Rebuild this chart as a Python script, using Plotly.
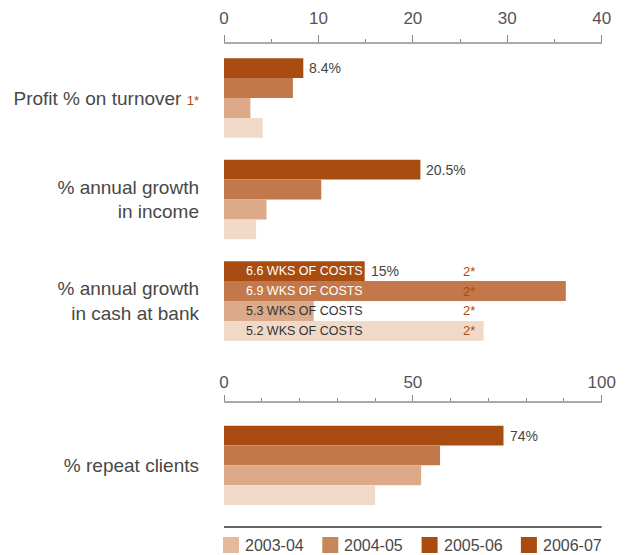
import plotly.graph_objects as go

# ---------------- data ----------------
years = ["2006-07", "2005-06", "2004-05", "2003-04"]          # top -> bottom in each group
bar_colors = ["#A94C11", "#C2784A", "#DCAA88", "#F1D9C8"]
legend_years = ["2003-04", "2004-05", "2005-06", "2006-07"]
legend_colors = ["#E3BA9B", "#C8865A", "#A84C10", "#A84C10"]

categories = [
    "Profit % on turnover <span style='color:#A84C10;font-size:13px'>1*</span>",
    "% annual growth<br>in income",
    "% annual growth<br>in cash at bank",
]
v_0607 = [8.4, 20.8, 14.9]
v_0506 = [7.3, 10.3, 36.2]
v_0405 = [2.8, 4.5, 9.5]
v_0304 = [4.1, 3.4, 27.5]
top_values = [v_0607, v_0506, v_0405, v_0304]
top_labels = ["8.4%", "20.5%", "15%"]

cash_weeks = ["6.6 WKS OF COSTS", "6.9 WKS OF COSTS", "5.3 WKS OF COSTS", "5.2 WKS OF COSTS"]
cash_week_colors = ["#FFFFFF", "#FFFFFF", "#333333", "#333333"]
cash_note = "2*"
cash_note_x = 25.1

repeat_category = ["% repeat clients"]
repeat_values = [74, 57.2, 52.2, 40.0]
repeat_label = "74%"

top_ticks = [0, 10, 20, 30, 40]
bottom_ticks = [0, 50, 100]

# ---------------- layout geometry ----------------
W, H = 630, 555
BARGAP = 0.216
n_tr = len(years)
bw = (1 - BARGAP) / n_tr

def py(px):
    return 1 - px / H

fig = go.Figure()

ypos = list(range(len(categories)))
for k, (yr, col, vals) in enumerate(zip(years, bar_colors, top_values)):
    fig.add_trace(go.Bar(x=vals, y=ypos, orientation="h", marker=dict(color=col, line=dict(width=0)),
                         name=yr, showlegend=False, xaxis="x", yaxis="y", hoverinfo="skip"))
for k, (yr, col, val) in enumerate(zip(years, bar_colors, repeat_values)):
    fig.add_trace(go.Bar(x=[val], y=[0], orientation="h", marker=dict(color=col, line=dict(width=0)),
                         name=yr, showlegend=False, xaxis="x2", yaxis="y2", hoverinfo="skip"))

def bar_y(cat, k):
    return cat - (1 - BARGAP) / 2 + (k + 0.5) * bw

ann = []
# value labels on the 2006-07 bars
for i, (lab, val) in enumerate(zip(top_labels, v_0607)):
    ann.append(dict(x=val, y=bar_y(i, 0), xref="x", yref="y", text=lab, showarrow=False,
                    xanchor="left", xshift=4, font=dict(size=14, color="#444")))
ann.append(dict(x=repeat_values[0], y=bar_y(0, 0), xref="x2", yref="y2", text=repeat_label,
                showarrow=False, xanchor="left", xshift=4, font=dict(size=14, color="#444")))
# weeks-of-costs labels and notes in cash group
cash_i = 2
for k, (t, c) in enumerate(zip(cash_weeks, cash_week_colors)):
    ann.append(dict(x=0, y=bar_y(cash_i, k), xref="x", yref="y", text=t, showarrow=False,
                    xanchor="left", xshift=20, font=dict(size=12.5, color=c)))
    ann.append(dict(x=cash_note_x, y=bar_y(cash_i, k), xref="x", yref="y", text=cash_note,
                    showarrow=False, xanchor="left", font=dict(size=13, color="#A84C10")))

# legend (drawn manually to match the reference square sizes)
shapes = []
x_left = 223
step = 99.3
for j, (yr, col) in enumerate(zip(legend_years, legend_colors)):
    x0 = x_left + j * step
    shapes.append(dict(type="rect", xref="paper", yref="paper", x0=x0 / W, x1=(x0 + 16) / W,
                       y0=py(553), y1=py(537), fillcolor=col, line=dict(width=0)))
    ann.append(dict(x=(x0 + 20) / W, y=py(545), xref="paper", yref="paper", text=yr,
                    showarrow=False, xanchor="left", yanchor="middle",
                    font=dict(size=16, color="#484848")))
# separator line above the legend
shapes.append(dict(type="line", xref="paper", yref="paper", x0=224 / W, x1=601.7 / W,
                   y0=py(527), y1=py(527), line=dict(color="#333", width=1.5)))

xdom = [224 / W, 601.7 / W]
axis_common = dict(side="top", showline=True, linecolor="#aaa", linewidth=1.5, ticks="outside",
                   tickcolor="#888", tickwidth=1, showgrid=False, zeroline=False,
                   tickfont=dict(size=17, color="#555"), fixedrange=True, automargin=False)

fig.update_layout(
    width=W, height=H, margin=dict(l=0, r=0, t=0, b=0, autoexpand=False),
    paper_bgcolor="white", plot_bgcolor="white",
    font=dict(family="Liberation Sans, Arial, sans-serif", color="#444"),
    barmode="group", bargap=BARGAP, bargroupgap=0,
    xaxis=dict(domain=xdom, anchor="y", range=[0, 40], tickvals=top_ticks, ticklen=7,
               minor=dict(dtick=5, tick0=0, ticks="outside", ticklen=3, tickcolor="#888", showgrid=False),
               ticklabelstandoff=4, **axis_common),
    yaxis=dict(domain=[py(351.75), py(44)], anchor="x", range=[2.5, -0.532],
               tickvals=ypos, ticktext=categories, showline=False, ticks="", showgrid=False,
               zeroline=False, tickfont=dict(size=19, color="#484848"), ticklabelstandoff=24,
               fixedrange=True, automargin=False),
    xaxis2=dict(domain=xdom, anchor="y2", range=[0, 100], tickvals=bottom_ticks, ticklen=6,
                minor=dict(dtick=10, tick0=0, ticks="outside", ticklen=3, tickcolor="#888", showgrid=False),
                ticklabelstandoff=0, **axis_common),
    yaxis2=dict(domain=[py(516), py(403)], anchor="x2", range=[0.5, -0.616],
                tickvals=[0], ticktext=repeat_category, showline=False, ticks="", showgrid=False,
                zeroline=False, tickfont=dict(size=19, color="#484848"), ticklabelstandoff=24,
                fixedrange=True, automargin=False),
    annotations=ann, shapes=shapes, showlegend=False,
)

fig.write_html("out.html")
